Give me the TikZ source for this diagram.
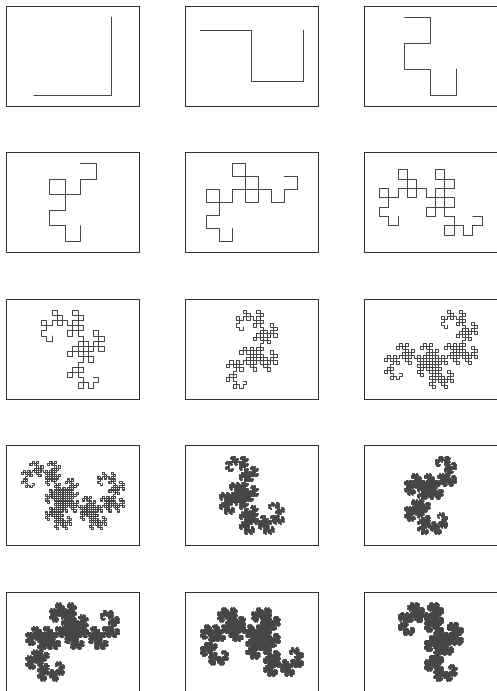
\documentclass[tikz,border=0pt]{standalone}
\usepackage{tikz}

\definecolor{curvegray}{HTML}{464646}
\definecolor{framegray}{HTML}{303030}
\tikzset{panel/.style={draw=framegray,line width=.9pt}}

\newcount\dragx \newcount\dragy \newcount\dragdir
\newcount\dragn \newcount\dragm \newcount\dragk \newcount\draglast
\newcount\xmin \newcount\xmax \newcount\ymin \newcount\ymax
\newdimen\dragstep \newdimen\dragalt \newdimen\dragox \newdimen\dragoy
\newdimen\dragpx \newdimen\dragpy

% one move along the curve, then the fold at move \dragn
\def\dragmove{%
  \ifcase\dragdir \advance\dragy-1 \or \advance\dragx-1 \or \advance\dragy 1 \or \advance\dragx 1 \fi
  \dragm=\dragn
  \loop\ifodd\dragm\else\divide\dragm by 2 \repeat
  \dragk=\dragm \divide\dragk by 4 \multiply\dragk by 4 \advance\dragm-\dragk
  \ifnum\dragm=1 \advance\dragdir 1 \else \advance\dragdir 3 \fi
  \ifnum\dragdir>3 \advance\dragdir-4 \fi}
\def\dragbox{%
  \ifnum\dragx<\xmin \xmin=\dragx \fi \ifnum\dragx>\xmax \xmax=\dragx \fi
  \ifnum\dragy<\ymin \ymin=\dragy \fi \ifnum\dragy>\ymax \ymax=\dragy \fi}
\def\dragpoint{%
  \dragpx=\dragx\dragstep \advance\dragpx\dragox
  \dragpy=\dragy\dragstep \advance\dragpy\dragoy}
\def\dragmeasure{%
  \ifnum\dragn<\draglast \dragmove \dragbox \advance\dragn 1 \expandafter\dragmeasure \fi}
\def\dragstroke{%
  \ifnum\dragn<\draglast
    \dragmove \dragpoint \pgfpathlineto{\pgfqpoint{\dragpx}{\dragpy}}%
    \dragk=\dragn \divide\dragk by 256 \multiply\dragk by 256
    \ifnum\dragk=\dragn
      \pgfusepath{stroke}\pgfpathmoveto{\pgfqpoint{\dragpx}{\dragpy}}%
    \fi
    \advance\dragn 1 \expandafter\dragstroke
  \fi}
% #1 order, #2 and #3 centre of the panel, #4 line width
\def\dragoncurve#1#2#3#4{%
  \draglast=1 \dragk=#1
  \loop\ifnum\dragk>0 \multiply\draglast by 2 \advance\dragk-1 \repeat
  \advance\draglast 1
  \dragx=0 \dragy=0 \dragdir=0 \xmin=0 \xmax=0 \ymin=0 \ymax=0 \dragn=1
  \dragmeasure
  \dragstep=103pt \dragk=\xmax \advance\dragk-\xmin \divide\dragstep by \dragk
  \dragalt=78pt \dragk=\ymax \advance\dragk-\ymin \divide\dragalt by \dragk
  \ifdim\dragalt<\dragstep \dragstep=\dragalt \fi
  \dragk=\xmin \advance\dragk\xmax \dragox=-\dragk\dragstep \divide\dragox by 2 \advance\dragox #2pt
  \dragk=\ymin \advance\dragk\ymax \dragoy=-\dragk\dragstep \divide\dragoy by 2 \advance\dragoy #3pt
  \dragx=0 \dragy=0 \dragdir=0 \dragn=1
  \begin{pgfscope}
    \pgfsetstrokecolor{curvegray}\pgfsetlinewidth{#4pt}\pgfsetroundcap\pgfsetroundjoin
    \dragpoint \pgfpathmoveto{\pgfqpoint{\dragpx}{\dragpy}}%
    \dragstroke
    \pgfusepath{stroke}%
  \end{pgfscope}}

\begin{document}
\begin{tikzpicture}[x=1pt,y=1pt]
\useasboundingbox (0,0) rectangle (496,-691);
\foreach \order/\curvewd in {1/.9,2/.9,3/.9,4/.9,5/.9,6/.9,7/.9,8/.9,9/1.0,10/1.15,11/1.5,12/1.5,13/1.5,14/1.5,15/1.5} {
  \pgfmathtruncatemacro{\col}{mod(\order-1,3)}
  \pgfmathtruncatemacro{\row}{int((\order-1)/3)}
  \pgfmathsetmacro{\cx}{72.8+179*\col}
  \pgfmathsetmacro{\cy}{-56-146.5*\row}
  \draw[panel] (\cx-66.8,\cy+50) rectangle (\cx+66.8,\cy-50);
  \dragoncurve{\order}{\cx}{\cy}{\curvewd}
}
\end{tikzpicture}
\end{document}
